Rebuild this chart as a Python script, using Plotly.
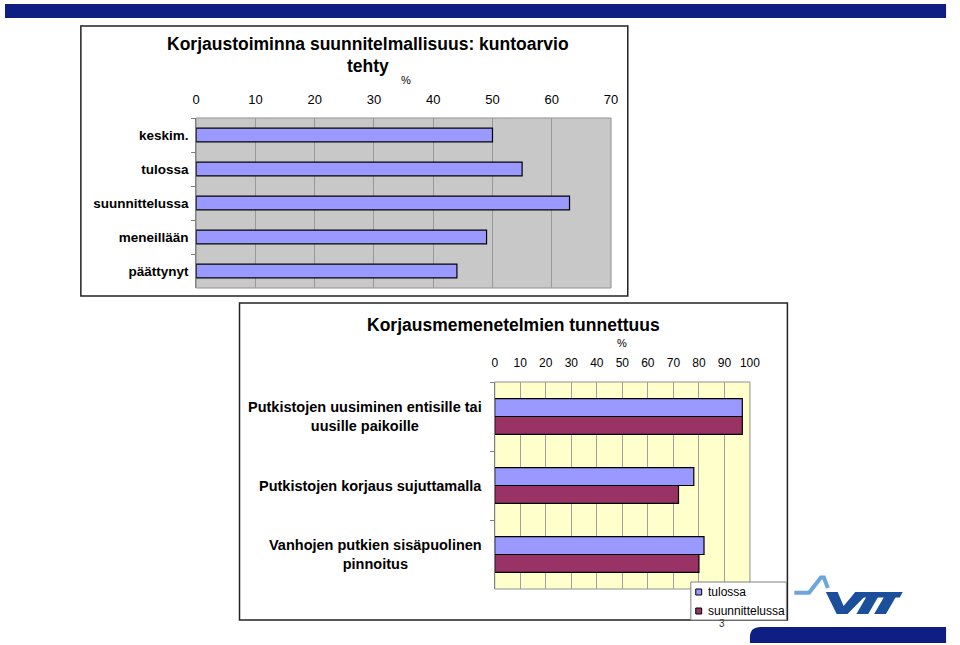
import plotly.graph_objects as go

W, H = 960, 645


def px(x):
    return x / W


def py(y):
    return 1 - y / H


def path(points, close=True):
    s = "M " + " L ".join(f"{px(x):.5f},{py(y):.5f}" for x, y in points)
    return s + (" Z" if close else "")


# ---------------- data ----------------
top_title_lines = ["Korjaustoiminna suunnitelmallisuus: kuntoarvio", "tehty"]
top_categories = ["keskim.", "tulossa", "suunnittelussa", "meneillään", "päättynyt"]
top_values = [50, 55, 63, 49, 44]
top_ticks = [0, 10, 20, 30, 40, 50, 60, 70]

bottom_title = "Korjausmemenetelmien tunnettuus"
bottom_categories = [
    "Putkistojen uusiminen entisille tai<br>uusille paikoille",
    "Putkistojen korjaus sujuttamalla",
    "Vanhojen putkien sisäpuolinen<br>pinnoitus",
]
series_names = ["tulossa", "suunnittelussa"]
bottom_tulossa = [97, 78, 82]
bottom_suunnittelussa = [97, 72, 80]
bottom_ticks = [0, 10, 20, 30, 40, 50, 60, 70, 80, 90, 100]

FONT = "Liberation Sans, Arial, sans-serif"
BLUE = "#9999ff"
PURPLE = "#993366"
NAVY = "#0e1e82"

fig = go.Figure()

fig.add_trace(go.Bar(
    x=top_values, y=top_categories, orientation="h", xaxis="x", yaxis="y",
    marker=dict(color=BLUE, line=dict(color="#000000", width=1.2)),
    width=0.4, showlegend=False, name="",
))

fig.add_trace(go.Bar(
    x=bottom_tulossa, y=bottom_categories, orientation="h", xaxis="x2", yaxis="y2",
    marker=dict(color=BLUE, line=dict(color="#000000", width=1.2)),
    width=0.26, offset=-0.26, showlegend=False, name=series_names[0],
))
fig.add_trace(go.Bar(
    x=bottom_suunnittelussa, y=bottom_categories, orientation="h", xaxis="x2", yaxis="y2",
    marker=dict(color=PURPLE, line=dict(color="#000000", width=1.2)),
    width=0.26, offset=0.0, showlegend=False, name=series_names[1],
))

shapes = []
# top navy stripe
shapes.append(dict(type="rect", xref="paper", yref="paper", x0=px(1), x1=px(956), y0=py(18), y1=py(4),
                   fillcolor=NAVY, line=dict(width=0), layer="below"))
# bottom navy stripe with rounded corner
shapes.append(dict(type="path", xref="paper", yref="paper",
                   path=f"M {px(768):.5f},{py(627):.5f} L {px(956):.5f},{py(627):.5f} L {px(956):.5f},{py(643):.5f} "
                        f"L {px(757):.5f},{py(643):.5f} L {px(757):.5f},{py(637):.5f} "
                        f"Q {px(757):.5f},{py(627):.5f} {px(768):.5f},{py(627):.5f} Z",
                   fillcolor=NAVY, line=dict(width=0), layer="below"))
# plot area backgrounds
shapes.append(dict(type="rect", xref="x domain", yref="y domain", x0=0, x1=1, y0=0, y1=1,
                   fillcolor="#c8c8c8", line=dict(color="#909090", width=1), layer="below"))
shapes.append(dict(type="rect", xref="x2 domain", yref="y2 domain", x0=0, x1=1, y0=0, y1=1,
                   fillcolor="#ffffcc", line=dict(color="#909090", width=1), layer="below"))
# chart frames
shapes.append(dict(type="rect", xref="paper", yref="paper", x0=px(78), x1=px(633), y0=py(296), y1=py(26),
                   line=dict(color="#222222", width=1.5)))
shapes.append(dict(type="rect", xref="paper", yref="paper", x0=px(239), x1=px(795), y0=py(620), y1=py(303),
                   line=dict(color="#222222", width=1.5)))
# custom legend
shapes.append(dict(type="rect", xref="paper", yref="paper", x0=px(697), x1=px(794), y0=py(620), y1=py(582),
                   fillcolor="#ffffff", line=dict(color="#808080", width=1)))
shapes.append(dict(type="rect", xref="paper", yref="paper", x0=px(702), x1=px(708), y0=py(595), y1=py(589),
                   fillcolor=BLUE, line=dict(color="#000000", width=1)))
shapes.append(dict(type="rect", xref="paper", yref="paper", x0=px(702), x1=px(708), y0=py(614), y1=py(608),
                   fillcolor=PURPLE, line=dict(color="#000000", width=1)))

# VTT logo
LOGO_LIGHT = "#6ea6dc"
LOGO_DARK = "#1b4f9c"
shapes.append(dict(type="path", xref="paper", yref="paper",
                   path=path([(802, 592.7), (817, 592.7), (829, 577.5), (832, 577.5), (836, 588)], close=False),
                   line=dict(color=LOGO_LIGHT, width=4)))
shapes.append(dict(type="path", xref="paper", yref="paper",
                   path=path([(834, 592), (846, 592), (852, 606), (864, 592), (878, 592), (856, 614), (845, 614)]),
                   fillcolor=LOGO_DARK, line=dict(width=0)))
shapes.append(dict(type="path", xref="paper", yref="paper",
                   path=path([(864, 592), (912, 592), (909, 597.5), (860, 597.5)]),
                   fillcolor=LOGO_DARK, line=dict(width=0)))
shapes.append(dict(type="path", xref="paper", yref="paper",
                   path=path([(875, 597), (887, 597), (877, 614), (865, 614)]),
                   fillcolor=LOGO_DARK, line=dict(width=0)))
shapes.append(dict(type="path", xref="paper", yref="paper",
                   path=path([(893, 597), (905, 597), (895, 614), (883, 614)]),
                   fillcolor=LOGO_DARK, line=dict(width=0)))

annotations = []
annotations.append(dict(text=top_title_lines[0], x=px(369), y=py(44), xref="paper", yref="paper",
                        xanchor="center", yanchor="middle", showarrow=False,
                        font=dict(family=FONT, size=17.5, color="#000000", weight="bold")))
annotations.append(dict(text=top_title_lines[1], x=px(369), y=py(66), xref="paper", yref="paper",
                        xanchor="center", yanchor="middle", showarrow=False,
                        font=dict(family=FONT, size=17.5, color="#000000", weight="bold")))
annotations.append(dict(text="%", x=px(408), y=py(80), xref="paper", yref="paper",
                        xanchor="center", yanchor="middle", showarrow=False,
                        font=dict(family=FONT, size=11, color="#000000")))
annotations.append(dict(text=bottom_title, x=px(517), y=py(325), xref="paper", yref="paper",
                        xanchor="center", yanchor="middle", showarrow=False,
                        font=dict(family=FONT, size=17.5, color="#000000", weight="bold")))
annotations.append(dict(text="%", x=px(627), y=py(343), xref="paper", yref="paper",
                        xanchor="center", yanchor="middle", showarrow=False,
                        font=dict(family=FONT, size=11, color="#000000")))
for i, cat in enumerate(bottom_categories):
    annotations.append(dict(text=cat, x=px(487), y=i, xref="paper", yref="y2",
                            xanchor="right", yanchor="middle", align="center", showarrow=False,
                            font=dict(family=FONT, size=14.5, color="#000000", weight="bold")))
for name, yy in zip(series_names, [592, 611]):
    annotations.append(dict(text=name, x=px(712), y=py(yy), xref="paper", yref="paper",
                            xanchor="left", yanchor="middle", showarrow=False,
                            font=dict(family=FONT, size=12, color="#000000")))
annotations.append(dict(text="3", x=px(729), y=py(623), xref="paper", yref="paper",
                        xanchor="center", yanchor="middle", showarrow=False,
                        font=dict(family=FONT, size=10, color="#333333")))

fig.update_layout(
    width=W, height=H,
    margin=dict(l=0, r=0, t=0, b=0),
    paper_bgcolor="#ffffff", plot_bgcolor="rgba(0,0,0,0)",
    barmode="group",
    font=dict(family=FONT, color="#000000"),
    shapes=shapes, annotations=annotations,
    showlegend=False,
    xaxis=dict(domain=[px(195), px(616)], anchor="y", side="top", range=[0, 70],
               tickvals=top_ticks, showgrid=True, gridcolor="#999999", gridwidth=1,
               zeroline=False, showline=False, ticks="", ticklabelstandoff=10,
               tickfont=dict(family=FONT, size=13, color="#000000"), fixedrange=True),
    yaxis=dict(domain=[py(288), py(118)], anchor="x", type="category", autorange="reversed",
               tickson="boundaries", ticks="outside", ticklen=4, tickcolor="#808080",
               showline=True, linecolor="#808080", linewidth=1, showgrid=False,
               ticklabelstandoff=4,
               tickfont=dict(family=FONT, size=13.5, color="#000000", weight="bold"), fixedrange=True),
    xaxis2=dict(domain=[px(498), px(757)], anchor="y2", side="top", range=[0, 100],
                tickvals=bottom_ticks, showgrid=True, gridcolor="#a0a0a0", gridwidth=1,
                zeroline=False, showline=False, ticks="", ticklabelstandoff=12,
                tickfont=dict(family=FONT, size=12, color="#000000"), fixedrange=True),
    yaxis2=dict(domain=[py(589), py(382)], anchor="x2", type="category", autorange="reversed",
                tickson="boundaries", ticks="outside", ticklen=4, tickcolor="#808080",
                showline=True, linecolor="#808080", linewidth=1, showgrid=False,
                showticklabels=False, fixedrange=True),
)

fig.write_html(
    "out.html",
    config={"displayModeBar": False},
    post_script="document.body.style.margin='0';document.body.style.overflow='hidden';",
)
